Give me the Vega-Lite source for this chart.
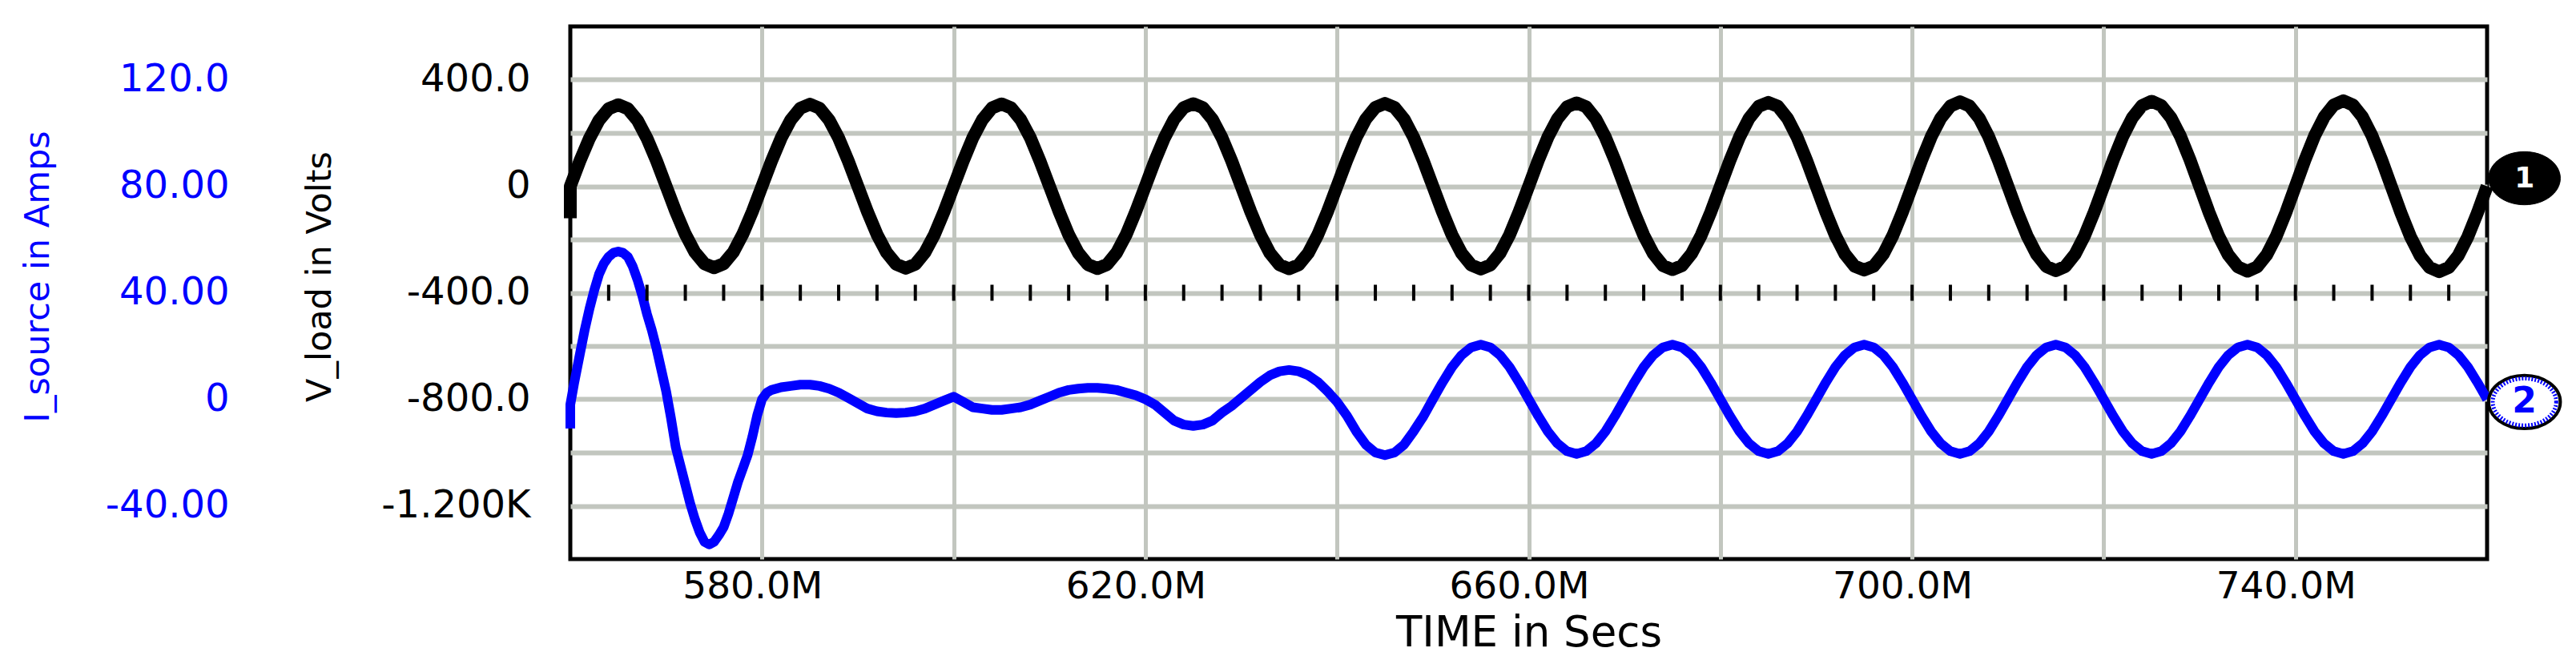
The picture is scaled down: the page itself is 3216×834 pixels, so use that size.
{
  "$schema": "https://vega.github.io/schema/vega-lite/v6.json",
  "width": 2393,
  "height": 665,
  "autosize": "none",
  "padding": {"left": 712, "top": 33, "right": 111, "bottom": 136},
  "background": "white",
  "config": {
    "view": {"stroke": "black", "strokeWidth": 5},
    "axis": {"domain": false, "ticks": false, "tickSize": 0, "labelLimit": 0, "labelFont": "DejaVu Sans", "titleFont": "DejaVu Sans", "titleFontWeight": "normal", "gridColor": "#c2c6bf", "labelOverlap": false}
  },
  "datasets": {
    "vload": [
      {"t":560,"V":-120},{"t":560,"V":0},{"t":561,"V":95},{"t":562,"V":180},{"t":563,"V":248},{"t":564,"V":291},{"t":565,"V":306},{"t":566,"V":291},{"t":567,"V":248},{"t":568,"V":180},{"t":569,"V":95},{"t":570,"V":0},{"t":571,"V":-95},{"t":572,"V":-180},{"t":573,"V":-248},{"t":574,"V":-291},{"t":575,"V":-306},{"t":576,"V":-291},{"t":577,"V":-248},{"t":578,"V":-180},{"t":579,"V":-95},
      {"t":580,"V":0},{"t":581,"V":95},{"t":582,"V":181},{"t":583,"V":249},{"t":584,"V":293},{"t":585,"V":308},{"t":586,"V":293},{"t":587,"V":249},{"t":588,"V":181},{"t":589,"V":95},{"t":590,"V":0},{"t":591,"V":-95},{"t":592,"V":-181},{"t":593,"V":-249},{"t":594,"V":-293},{"t":595,"V":-308},{"t":596,"V":-293},{"t":597,"V":-249},{"t":598,"V":-181},{"t":599,"V":-95},
      {"t":600,"V":0},{"t":601,"V":95},{"t":602,"V":182},{"t":603,"V":250},{"t":604,"V":294},{"t":605,"V":309},{"t":606,"V":294},{"t":607,"V":250},{"t":608,"V":182},{"t":609,"V":95},{"t":610,"V":0},{"t":611,"V":-95},{"t":612,"V":-182},{"t":613,"V":-250},{"t":614,"V":-294},{"t":615,"V":-309},{"t":616,"V":-294},{"t":617,"V":-250},{"t":618,"V":-182},{"t":619,"V":-95},
      {"t":620,"V":0},{"t":621,"V":96},{"t":622,"V":182},{"t":623,"V":251},{"t":624,"V":295},{"t":625,"V":310},{"t":626,"V":295},{"t":627,"V":251},{"t":628,"V":182},{"t":629,"V":96},{"t":630,"V":0},{"t":631,"V":-96},{"t":632,"V":-182},{"t":633,"V":-251},{"t":634,"V":-295},{"t":635,"V":-310},{"t":636,"V":-295},{"t":637,"V":-251},{"t":638,"V":-182},{"t":639,"V":-96},
      {"t":640,"V":0},{"t":641,"V":96},{"t":642,"V":183},{"t":643,"V":252},{"t":644,"V":296},{"t":645,"V":311},{"t":646,"V":296},{"t":647,"V":252},{"t":648,"V":183},{"t":649,"V":96},{"t":650,"V":0},{"t":651,"V":-96},{"t":652,"V":-183},{"t":653,"V":-252},{"t":654,"V":-296},{"t":655,"V":-311},{"t":656,"V":-296},{"t":657,"V":-252},{"t":658,"V":-183},{"t":659,"V":-96},
      {"t":660,"V":0},{"t":661,"V":97},{"t":662,"V":184},{"t":663,"V":253},{"t":664,"V":298},{"t":665,"V":313},{"t":666,"V":298},{"t":667,"V":253},{"t":668,"V":184},{"t":669,"V":97},{"t":670,"V":0},{"t":671,"V":-97},{"t":672,"V":-184},{"t":673,"V":-253},{"t":674,"V":-298},{"t":675,"V":-313},{"t":676,"V":-298},{"t":677,"V":-253},{"t":678,"V":-184},{"t":679,"V":-97},
      {"t":680,"V":0},{"t":681,"V":97},{"t":682,"V":185},{"t":683,"V":255},{"t":684,"V":300},{"t":685,"V":315},{"t":686,"V":300},{"t":687,"V":255},{"t":688,"V":185},{"t":689,"V":97},{"t":690,"V":0},{"t":691,"V":-97},{"t":692,"V":-185},{"t":693,"V":-255},{"t":694,"V":-300},{"t":695,"V":-315},{"t":696,"V":-300},{"t":697,"V":-255},{"t":698,"V":-185},{"t":699,"V":-97},
      {"t":700,"V":0},{"t":701,"V":98},{"t":702,"V":186},{"t":703,"V":256},{"t":704,"V":301},{"t":705,"V":317},{"t":706,"V":301},{"t":707,"V":256},{"t":708,"V":186},{"t":709,"V":98},{"t":710,"V":0},{"t":711,"V":-98},{"t":712,"V":-186},{"t":713,"V":-256},{"t":714,"V":-301},{"t":715,"V":-317},{"t":716,"V":-301},{"t":717,"V":-256},{"t":718,"V":-186},{"t":719,"V":-98},
      {"t":720,"V":0},{"t":721,"V":99},{"t":722,"V":188},{"t":723,"V":258},{"t":724,"V":303},{"t":725,"V":319},{"t":726,"V":303},{"t":727,"V":258},{"t":728,"V":188},{"t":729,"V":99},{"t":730,"V":0},{"t":731,"V":-99},{"t":732,"V":-188},{"t":733,"V":-258},{"t":734,"V":-303},{"t":735,"V":-319},{"t":736,"V":-303},{"t":737,"V":-258},{"t":738,"V":-188},{"t":739,"V":-99},
      {"t":740,"V":0},{"t":741,"V":99},{"t":742,"V":189},{"t":743,"V":260},{"t":744,"V":305},{"t":745,"V":321},{"t":746,"V":305},{"t":747,"V":260},{"t":748,"V":189},{"t":749,"V":99},{"t":750,"V":0},{"t":751,"V":-99},{"t":752,"V":-189},{"t":753,"V":-260},{"t":754,"V":-305},{"t":755,"V":-321},{"t":756,"V":-305},{"t":757,"V":-260},{"t":758,"V":-189},{"t":759,"V":-99},
      {"t":760,"V":0}
    ],
    "isource": [
      {"t":560,"I":-11},{"t":560,"I":-2},{"t":560.4,"I":6},{"t":561,"I":17},{"t":561.5,"I":26},{"t":562,"I":34},{"t":562.5,"I":41},{"t":563,"I":47},{"t":563.5,"I":51},{"t":564,"I":53.5},{"t":564.5,"I":55},{"t":565,"I":55.5},{"t":565.5,"I":55},{"t":566,"I":53.5},{"t":566.5,"I":50},{"t":567,"I":45},{"t":567.5,"I":39},{"t":568,"I":32},{"t":568.5,"I":26},{"t":569,"I":19},{"t":569.5,"I":11},
      {"t":570,"I":3},{"t":570.5,"I":-7},{"t":571,"I":-18},{"t":571.5,"I":-25},{"t":572,"I":-32},{"t":572.5,"I":-39},{"t":573,"I":-45},{"t":573.5,"I":-50},{"t":574,"I":-53.5},{"t":574.5,"I":-54.5},{"t":575,"I":-53.5},{"t":575.5,"I":-51},{"t":576,"I":-48},{"t":576.5,"I":-43},{"t":577,"I":-37},{"t":577.5,"I":-31},{"t":578,"I":-26},{"t":578.5,"I":-21},{"t":579,"I":-14},{"t":579.5,"I":-6},
      {"t":580,"I":0},{"t":580.5,"I":2.5},{"t":581,"I":3.5},{"t":582,"I":4.5},{"t":583,"I":5},{"t":584,"I":5.5},{"t":585,"I":5.5},{"t":586,"I":5},{"t":587,"I":4},{"t":588,"I":2.5},{"t":589,"I":0.5},{"t":590,"I":-1.5},{"t":591,"I":-3.5},{"t":592,"I":-4.5},{"t":593,"I":-5},{"t":594,"I":-5.2},{"t":595,"I":-5},{"t":596,"I":-4.5},{"t":597,"I":-3.5},{"t":598,"I":-2},{"t":599,"I":-0.5},
      {"t":600,"I":1},{"t":601,"I":-1},{"t":602,"I":-3},{"t":603,"I":-3.5},{"t":604,"I":-4},{"t":605,"I":-4},{"t":606,"I":-3.5},{"t":607,"I":-3},{"t":608,"I":-2},{"t":609,"I":-0.5},{"t":610,"I":1},{"t":611,"I":2.5},{"t":612,"I":3.5},{"t":613,"I":4},{"t":614,"I":4.3},{"t":615,"I":4.3},{"t":616,"I":4},{"t":617,"I":3.5},{"t":618,"I":2.5},{"t":619,"I":1.5},
      {"t":620,"I":0},{"t":621,"I":-2},{"t":622,"I":-5},{"t":623,"I":-8},{"t":624,"I":-9.5},{"t":625,"I":-10},{"t":626,"I":-9.5},{"t":627,"I":-8},{"t":628,"I":-5},{"t":629,"I":-2.5},{"t":630,"I":0.5},{"t":631,"I":3.5},{"t":632,"I":6.5},{"t":633,"I":9},{"t":634,"I":10.5},{"t":635,"I":11},{"t":636,"I":10.5},{"t":637,"I":9},{"t":638,"I":6.5},{"t":639,"I":3},
      {"t":640,"I":-1},{"t":641,"I":-6},{"t":642,"I":-12},{"t":643,"I":-17},{"t":644,"I":-20},{"t":645,"I":-21},{"t":646,"I":-20},{"t":647,"I":-17},{"t":648,"I":-12},{"t":649,"I":-6.5},
      {"t":650,"I":0},{"t":651,"I":6.3},{"t":652,"I":12.1},{"t":653,"I":16.6},{"t":654,"I":19.5},{"t":655,"I":20.5},{"t":656,"I":19.5},{"t":657,"I":16.6},{"t":658,"I":12.1},{"t":659,"I":6.3},{"t":660,"I":0},{"t":661,"I":-6.3},{"t":662,"I":-12.1},{"t":663,"I":-16.6},{"t":664,"I":-19.5},{"t":665,"I":-20.5},{"t":666,"I":-19.5},{"t":667,"I":-16.6},{"t":668,"I":-12.1},{"t":669,"I":-6.3},
      {"t":670,"I":0},{"t":671,"I":6.3},{"t":672,"I":12.1},{"t":673,"I":16.6},{"t":674,"I":19.5},{"t":675,"I":20.5},{"t":676,"I":19.5},{"t":677,"I":16.6},{"t":678,"I":12.1},{"t":679,"I":6.3},{"t":680,"I":0},{"t":681,"I":-6.3},{"t":682,"I":-12.1},{"t":683,"I":-16.6},{"t":684,"I":-19.5},{"t":685,"I":-20.5},{"t":686,"I":-19.5},{"t":687,"I":-16.6},{"t":688,"I":-12.1},{"t":689,"I":-6.3},
      {"t":690,"I":0},{"t":691,"I":6.3},{"t":692,"I":12.1},{"t":693,"I":16.6},{"t":694,"I":19.5},{"t":695,"I":20.5},{"t":696,"I":19.5},{"t":697,"I":16.6},{"t":698,"I":12.1},{"t":699,"I":6.3},{"t":700,"I":0},{"t":701,"I":-6.3},{"t":702,"I":-12.1},{"t":703,"I":-16.6},{"t":704,"I":-19.5},{"t":705,"I":-20.5},{"t":706,"I":-19.5},{"t":707,"I":-16.6},{"t":708,"I":-12.1},{"t":709,"I":-6.3},
      {"t":710,"I":0},{"t":711,"I":6.3},{"t":712,"I":12.1},{"t":713,"I":16.6},{"t":714,"I":19.5},{"t":715,"I":20.5},{"t":716,"I":19.5},{"t":717,"I":16.6},{"t":718,"I":12.1},{"t":719,"I":6.3},{"t":720,"I":0},{"t":721,"I":-6.3},{"t":722,"I":-12.1},{"t":723,"I":-16.6},{"t":724,"I":-19.5},{"t":725,"I":-20.5},{"t":726,"I":-19.5},{"t":727,"I":-16.6},{"t":728,"I":-12.1},{"t":729,"I":-6.3},
      {"t":730,"I":0},{"t":731,"I":6.3},{"t":732,"I":12.1},{"t":733,"I":16.6},{"t":734,"I":19.5},{"t":735,"I":20.5},{"t":736,"I":19.5},{"t":737,"I":16.6},{"t":738,"I":12.1},{"t":739,"I":6.3},{"t":740,"I":0},{"t":741,"I":-6.3},{"t":742,"I":-12.1},{"t":743,"I":-16.6},{"t":744,"I":-19.5},{"t":745,"I":-20.5},{"t":746,"I":-19.5},{"t":747,"I":-16.6},{"t":748,"I":-12.1},{"t":749,"I":-6.3},
      {"t":750,"I":0},{"t":751,"I":6.3},{"t":752,"I":12.1},{"t":753,"I":16.6},{"t":754,"I":19.5},{"t":755,"I":20.5},{"t":756,"I":19.5},{"t":757,"I":16.6},{"t":758,"I":12.1},{"t":759,"I":6.3},{"t":760,"I":0}
    ],
    "ticks": [
      {"t":564},{"t":568},{"t":572},{"t":576},{"t":580},{"t":584},{"t":588},{"t":592},{"t":596},{"t":600},{"t":604},{"t":608},{"t":612},{"t":616},{"t":620},{"t":624},{"t":628},{"t":632},{"t":636},{"t":640},{"t":644},{"t":648},{"t":652},{"t":656},{"t":660},{"t":664},{"t":668},{"t":672},{"t":676},{"t":680},{"t":684},{"t":688},{"t":692},{"t":696},{"t":700},{"t":704},{"t":708},{"t":712},{"t":716},{"t":720},{"t":724},{"t":728},{"t":732},{"t":736},{"t":740},{"t":744},{"t":748},{"t":752},{"t":756}
    ],
    "m1": [{"t":763.9,"V":30,"label":"1"}],
    "m2": [{"t":763.9,"I":-1,"label":"2"}]
  },
  "layer": [
    {
      "mark": {"type": "rule", "color": "black", "strokeWidth": 4},
      "encoding": {"x": {"datum": 660, "type": "quantitative"}}
    },
    {
      "data": {"name": "vload"},
      "mark": {"type": "line", "color": "black", "strokeWidth": 16, "strokeJoin": "round"},
      "encoding": {
        "x": {"field": "t", "type": "quantitative",
          "scale": {"domain": [560, 760], "nice": false, "zero": false},
          "axis": {"values": [580,600,620,640,660,680,700,720,740],
            "labelExpr": "(datum.value - 580) % 40 == 0 ? datum.value + '.0M' : ''",
            "labelFontSize": 47, "labelColor": "black", "labelPadding": 11, "labelOffset": -12,
            "grid": true, "gridWidth": 5,
            "title": "TIME in Secs", "titleFontSize": 53, "titleColor": "black", "titleY": 108, "titleBaseline": "alphabetic"}},
        "y": {"field": "V", "type": "quantitative",
          "scale": {"domain": [-1400, 600], "nice": false, "zero": false},
          "axis": {"orient": "left", "values": [-1200,-1000,-800,-600,-400,-200,0,200,400],
            "labelExpr": "datum.value == 400 ? '400.0' : datum.value == 0 ? '0' : datum.value == -400 ? '-400.0' : datum.value == -800 ? '-800.0' : datum.value == -1200 ? '-1.200K' : ''",
            "labelFontSize": 48, "labelColor": "black", "labelPadding": 50,
            "grid": true, "gridWidth": 6,
            "title": "V_load in Volts", "titleFontSize": 43, "titleColor": "black",
            "titleX": -300, "titleY": 312, "titleAngle": -90, "titleAlign": "center", "titleBaseline": "alphabetic"}}
      }
    },
    {
      "data": {"name": "isource"},
      "mark": {"type": "line", "color": "#0000ff", "strokeWidth": 12, "strokeJoin": "round"},
      "encoding": {
        "x": {"field": "t", "type": "quantitative"},
        "y": {"field": "I", "type": "quantitative",
          "scale": {"domain": [-60, 140], "nice": false, "zero": false},
          "axis": {"orient": "left", "values": [-40,0,40,80,120],
            "labelExpr": "datum.value == 120 ? '120.0' : datum.value == 80 ? '80.00' : datum.value == 40 ? '40.00' : datum.value == 0 ? '0' : datum.value == -40 ? '-40.00' : ''",
            "labelFontSize": 48, "labelColor": "#0000ff", "labelPadding": 426,
            "grid": false,
            "title": "I_source in Amps", "titleFontSize": 43, "titleColor": "#0000ff",
            "titleX": -652, "titleY": 312, "titleAngle": -90, "titleAlign": "center", "titleBaseline": "alphabetic"}}
      }
    },
    {
      "mark": {"type": "rule", "color": "black", "strokeWidth": 6},
      "encoding": {"y": {"datum": -400, "type": "quantitative", "scale": {"domain": [-1400, 600], "nice": false, "zero": false}, "axis": null}}
    },
    {
      "data": {"name": "ticks"},
      "mark": {"type": "tick", "orient": "vertical", "size": 20, "thickness": 4, "color": "black", "opacity": 1},
      "encoding": {
        "x": {"field": "t", "type": "quantitative"},
        "y": {"datum": -400, "type": "quantitative", "scale": {"domain": [-1400, 600], "nice": false, "zero": false}, "axis": null}
      }
    },
    {
      "data": {"name": "m1"},
      "mark": {"type": "point", "shape": "M 1.35 0 C 1.35 0.5523 0.7456 1 0 1 C -0.7456 1 -1.35 0.5523 -1.35 0 C -1.35 -0.5523 -0.7456 -1 0 -1 C 0.7456 -1 1.35 -0.5523 1.35 0 Z", "size": 4400, "filled": true, "fill": "black", "stroke": "black", "strokeWidth": 1, "opacity": 1},
      "encoding": {
        "x": {"field": "t", "type": "quantitative"},
        "y": {"field": "V", "type": "quantitative", "scale": {"domain": [-1400, 600], "nice": false, "zero": false}, "axis": null}
      }
    },
    {
      "data": {"name": "m1"},
      "mark": {"type": "text", "font": "DejaVu Sans", "fontWeight": "bold", "fontSize": 36, "color": "white", "align": "center", "baseline": "middle"},
      "encoding": {
        "x": {"field": "t", "type": "quantitative"},
        "y": {"field": "V", "type": "quantitative", "scale": {"domain": [-1400, 600], "nice": false, "zero": false}, "axis": null},
        "text": {"field": "label"}
      }
    },
    {
      "data": {"name": "m2"},
      "mark": {"type": "point", "shape": "M 1.35 0 C 1.35 0.5523 0.7456 1 0 1 C -0.7456 1 -1.35 0.5523 -1.35 0 C -1.35 -0.5523 -0.7456 -1 0 -1 C 0.7456 -1 1.35 -0.5523 1.35 0 Z", "size": 4400, "filled": true, "fill": "white", "stroke": "black", "strokeWidth": 4, "opacity": 1},
      "encoding": {
        "x": {"field": "t", "type": "quantitative"},
        "y": {"field": "I", "type": "quantitative", "scale": {"domain": [-60, 140], "nice": false, "zero": false}, "axis": null}
      }
    },
    {
      "data": {"name": "m2"},
      "mark": {"type": "point", "shape": "M 1.35 0 C 1.35 0.5523 0.7456 1 0 1 C -0.7456 1 -1.35 0.5523 -1.35 0 C -1.35 -0.5523 -0.7456 -1 0 -1 C 0.7456 -1 1.35 -0.5523 1.35 0 Z", "size": 3450, "filled": false, "stroke": "#0000ff", "strokeWidth": 5, "strokeDash": [2, 2], "opacity": 1},
      "encoding": {
        "x": {"field": "t", "type": "quantitative"},
        "y": {"field": "I", "type": "quantitative", "scale": {"domain": [-60, 140], "nice": false, "zero": false}, "axis": null}
      }
    },
    {
      "data": {"name": "m2"},
      "mark": {"type": "text", "font": "DejaVu Sans", "fontWeight": "bold", "fontSize": 44, "color": "#0000ff", "align": "center", "baseline": "middle"},
      "encoding": {
        "x": {"field": "t", "type": "quantitative"},
        "y": {"field": "I", "type": "quantitative", "scale": {"domain": [-60, 140], "nice": false, "zero": false}, "axis": null},
        "text": {"field": "label"}
      }
    }
  ],
  "resolve": {"scale": {"y": "independent"}, "axis": {"y": "independent"}}
}
